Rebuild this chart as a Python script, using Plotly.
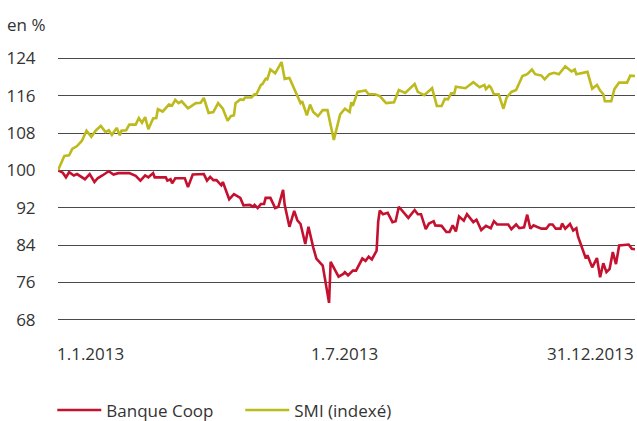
import plotly.graph_objects as go

# Day-of-year positions (0 = 1.1.2013, 364 = 31.12.2013) and indexed values
smi_days = [0, 4, 7, 9, 12, 15, 18, 21, 24, 27, 30, 32, 34, 37, 39, 40, 43, 45, 49, 51,
            53, 55, 57, 60, 62, 63, 66, 70, 72, 74, 76, 78, 82, 87, 90, 92, 95, 98, 101, 104,
            107, 109, 111, 112, 115, 117, 118, 122, 124, 125, 128, 129, 131, 132, 134, 137, 141, 143, 146, 149,
            151, 153, 154, 157, 159, 161, 164, 167, 170, 174, 178, 181, 184, 185, 186, 189, 194, 196, 200, 203,
            207, 212, 215, 219, 225, 227, 231, 234, 236, 239, 242, 244, 246, 248, 250, 251, 257, 262, 266, 269,
            270, 272, 273, 275, 278, 281, 283, 286, 289, 293, 296, 299, 301, 305, 307, 310, 313, 316, 320, 324,
            326, 327, 331, 334, 337, 340, 342, 344, 345, 349, 351, 354, 359, 361, 364]
smi_values = [100.0, 103.1, 103.2, 104.6, 105.2, 106.3, 108.5, 107.2, 108.6, 109.5, 108.2, 108.6, 107.6, 109.1, 107.5, 108.5, 108.6, 109.8, 109.8, 111.2,
              110.2, 111.4, 108.8, 111.1, 111.2, 113.1, 112.6, 114.1, 113.9, 115.1, 114.4, 114.8, 113.3, 114.4, 114.5, 115.5, 112.3, 112.5, 114.4, 113.2,
              110.6, 111.6, 111.8, 114.4, 115.2, 115.1, 115.6, 115.6, 116.3, 116.2, 118.3, 118.5, 119.6, 119.5, 121.6, 120.8, 123.2, 119.6, 119.8, 117.4,
              115.6, 114.4, 114.8, 111.8, 114.1, 112.5, 111.6, 112.9, 112.9, 106.5, 112.0, 113.2, 112.5, 114.6, 113.8, 116.8, 117.1, 116.3, 116.3, 115.9,
              114.4, 114.6, 117.2, 116.6, 118.5, 116.8, 116.1, 117.1, 117.6, 113.8, 113.8, 115.3, 115.2, 116.5, 116.5, 117.9, 117.6, 118.9, 117.8, 118.3,
              117.4, 118.1, 117.8, 116.3, 116.3, 113.2, 115.6, 116.8, 117.2, 120.2, 120.6, 121.6, 120.6, 120.3, 119.5, 120.6, 120.9, 120.6, 122.3, 121.2,
              121.6, 120.6, 120.8, 121.1, 117.5, 118.3, 117.1, 116.3, 114.8, 114.8, 117.4, 118.8, 118.8, 120.3, 120.2]

coop_days = [0, 3, 5, 7, 10, 12, 17, 20, 23, 25, 28, 32, 35, 38, 45, 49, 52, 55, 57, 60,
             61, 68, 69, 71, 72, 74, 80, 82, 85, 91, 92, 94, 96, 98, 100, 103, 104, 108, 111, 115,
             117, 121, 123, 124, 126, 128, 130, 131, 134, 137, 139, 142, 143, 146, 149, 151, 153, 156, 158, 161,
             163, 167, 171, 172, 177, 180, 181, 183, 186, 188, 192, 194, 196, 198, 201, 202, 203, 205, 208, 211,
             213, 215, 221, 225, 227, 229, 232, 234, 237, 238, 242, 245, 247, 249, 251, 253, 256, 258, 262, 264,
             267, 270, 273, 275, 277, 284, 286, 289, 291, 294, 296, 298, 300, 302, 305, 308, 310, 312, 314, 317,
             318, 320, 323, 325, 327, 328, 331, 333, 334, 337, 340, 342, 344, 346, 348, 350, 352, 354, 360, 362, 364]
coop_values = [100.0, 99.5, 98.5, 99.6, 98.9, 99.2, 98.1, 99.2, 97.5, 98.3, 98.9, 99.8, 99.1, 99.4, 99.4, 98.8, 97.8, 98.9, 98.5, 99.4,
               98.5, 98.5, 97.8, 98.1, 97.2, 98.3, 98.3, 96.4, 99.1, 99.2, 99.2, 97.8, 98.6, 97.9, 97.9, 96.8, 97.5, 93.8, 94.9, 94.1,
               92.5, 92.6, 92.2, 92.6, 91.9, 92.8, 92.8, 94.1, 94.1, 91.9, 92.2, 95.8, 92.6, 87.9, 91.3, 89.3, 88.5, 84.2, 87.9, 83.5,
               81.1, 79.6, 71.6, 80.4, 77.2, 77.8, 78.2, 77.5, 78.5, 78.5, 81.1, 80.6, 81.5, 80.9, 82.8, 89.0, 91.4, 90.6, 90.9, 88.9,
               89.1, 92.2, 89.8, 91.5, 90.6, 90.6, 87.4, 88.6, 89.1, 88.2, 88.1, 86.8, 86.8, 88.2, 86.9, 90.1, 89.2, 90.6, 88.9, 89.4,
               87.2, 88.1, 87.6, 89.1, 88.4, 88.4, 87.4, 88.4, 87.6, 87.8, 90.5, 87.5, 88.2, 87.9, 87.5, 87.5, 88.4, 88.4, 87.5, 87.5,
               88.6, 87.5, 88.5, 87.1, 87.6, 85.9, 82.9, 81.1, 81.8, 79.2, 81.2, 77.1, 80.1, 78.2, 78.9, 82.5, 79.9, 83.9, 84.1, 83.2, 83.1]

y_ticks = [68, 76, 84, 92, 100, 108, 116, 124]
x_tick_days = [0, 181, 364]
x_tick_labels = ["1.1.2013", "1.7.2013", "31.12.2013"]
series_names = ["Banque Coop", "SMI (indexé)"]

RED = "#C3112F"
OLIVE = "#BCBA1C"
TXT = "#333333"
FONT = "Open Sans"

fig = go.Figure()
fig.add_trace(go.Scatter(x=coop_days, y=coop_values, mode="lines", name=series_names[0],
                         line=dict(color=RED, width=2.6)))
fig.add_trace(go.Scatter(x=smi_days, y=smi_values, mode="lines", name=series_names[1],
                         line=dict(color=OLIVE, width=2.6)))

anchors = ["left", "center", "right"]
xshifts = [-3, 0, 1]
for d, lab, a, xs in zip(x_tick_days, x_tick_labels, anchors, xshifts):
    fig.add_annotation(x=d, y=0, xref="x", yref="paper", text=lab, showarrow=False,
                       xanchor=a, yanchor="middle", yshift=-31, xshift=xs,
                       font=dict(family=FONT, size=17, color=TXT))

fig.add_annotation(x=0, y=1, xref="paper", yref="paper", text="en %", showarrow=False,
                   xanchor="left", yanchor="middle", xshift=-53, yshift=32,
                   font=dict(family=FONT, size=17, color=TXT))

fig.update_layout(
    width=637, height=421,
    margin=dict(l=58, r=2, t=56, b=99, autoexpand=False),
    paper_bgcolor="white", plot_bgcolor="white",
    font=dict(family=FONT, size=17, color=TXT),
    showlegend=True,
    legend=dict(orientation="h", x=-0.0099, xanchor="left", y=-0.265, yanchor="top",
                font=dict(family=FONT, size=17, color=TXT),
                entrywidth=129, entrywidthmode="pixels", itemwidth=44,
                bgcolor="rgba(0,0,0,0)"),
    xaxis=dict(range=[0, 364], showgrid=False, zeroline=False, showticklabels=False,
               showline=False, ticks=""),
    yaxis=dict(range=[67.5, 124.5], tickvals=y_ticks, showgrid=True, gridcolor="#4a4a4a",
               gridwidth=1, zeroline=False, showline=False, ticks="outside", ticklen=18,
               tickcolor="rgba(0,0,0,0)", tickfont=dict(family=FONT, size=17, color=TXT)),
)

# Remove the page's default body margin so the 637x421 figure fills the window exactly.
fig.write_html("out.html", config={"displayModeBar": False},
               post_script="document.body.style.margin='0';document.body.style.overflow='hidden';")
